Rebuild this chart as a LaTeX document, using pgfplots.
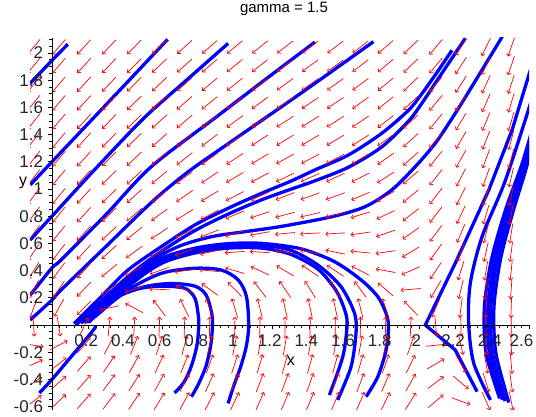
\documentclass[border=0pt]{standalone}
\usepackage{pgfplots}
\pgfplotsset{compat=1.18}
\usepackage{pgfplotstable}
\usetikzlibrary{arrows.meta}
\usepackage{fontspec}
\setmainfont{Liberation Sans}
\pgfplotstableread{
x y u v
-0.1 -0.56 0.56 0.586
-0.1 -0.423 0.423 0.381
-0.1 -0.286 0.286 0.175
-0.1 -0.149 0.149 -0.030
-0.1 -0.012 0.012 -0.236
-0.1 0.125 -0.125 -0.442
-0.1 0.262 -0.262 -0.647
-0.1 0.399 -0.399 -0.853
-0.1 0.536 -0.536 -1.058
-0.1 0.673 -0.673 -1.264
-0.1 0.81 -0.81 -1.469
-0.1 0.947 -0.947 -1.675
-0.1 1.084 -1.084 -1.880
-0.1 1.221 -1.221 -2.086
-0.1 1.358 -1.358 -2.291
-0.1 1.495 -1.495 -2.497
-0.1 1.632 -1.632 -2.702
-0.1 1.769 -1.769 -2.908
-0.1 1.906 -1.906 -3.113
-0.1 2.043 -2.043 -3.319
0.037 -0.56 0.56 0.721
0.037 -0.423 0.423 0.516
0.037 -0.286 0.286 0.310
0.037 -0.149 0.149 0.105
0.037 -0.012 0.012 -0.101
0.037 0.125 -0.125 -0.307
0.037 0.262 -0.262 -0.512
0.037 0.399 -0.399 -0.718
0.037 0.536 -0.536 -0.923
0.037 0.673 -0.673 -1.129
0.037 0.81 -0.81 -1.334
0.037 0.947 -0.947 -1.540
0.037 1.084 -1.084 -1.745
0.037 1.221 -1.221 -1.951
0.037 1.358 -1.358 -2.156
0.037 1.495 -1.495 -2.362
0.037 1.632 -1.632 -2.567
0.037 1.769 -1.769 -2.773
0.037 1.906 -1.906 -2.978
0.037 2.043 -2.043 -3.184
0.174 -0.56 0.56 0.856
0.174 -0.423 0.423 0.651
0.174 -0.286 0.286 0.445
0.174 -0.149 0.149 0.240
0.174 -0.012 0.012 0.034
0.174 0.125 -0.125 -0.172
0.174 0.262 -0.262 -0.377
0.174 0.399 -0.399 -0.583
0.174 0.536 -0.536 -0.788
0.174 0.673 -0.673 -0.994
0.174 0.81 -0.81 -1.199
0.174 0.947 -0.947 -1.405
0.174 1.084 -1.084 -1.610
0.174 1.221 -1.221 -1.816
0.174 1.358 -1.358 -2.021
0.174 1.495 -1.495 -2.227
0.174 1.632 -1.632 -2.432
0.174 1.769 -1.769 -2.638
0.174 1.906 -1.906 -2.843
0.174 2.043 -2.043 -3.049
0.311 -0.56 0.56 0.989
0.311 -0.423 0.423 0.784
0.311 -0.286 0.286 0.578
0.311 -0.149 0.149 0.373
0.311 -0.012 0.012 0.167
0.311 0.125 -0.125 -0.039
0.311 0.262 -0.262 -0.244
0.311 0.399 -0.399 -0.450
0.311 0.536 -0.536 -0.655
0.311 0.673 -0.673 -0.861
0.311 0.81 -0.81 -1.066
0.311 0.947 -0.947 -1.272
0.311 1.084 -1.084 -1.477
0.311 1.221 -1.221 -1.683
0.311 1.358 -1.358 -1.888
0.311 1.495 -1.495 -2.094
0.311 1.632 -1.632 -2.299
0.311 1.769 -1.769 -2.505
0.311 1.906 -1.906 -2.710
0.311 2.043 -2.043 -2.916
0.448 -0.56 0.56 1.120
0.448 -0.423 0.423 0.915
0.448 -0.286 0.286 0.709
0.448 -0.149 0.149 0.504
0.448 -0.012 0.012 0.298
0.448 0.125 -0.125 0.092
0.448 0.262 -0.262 -0.113
0.448 0.399 -0.399 -0.319
0.448 0.536 -0.536 -0.524
0.448 0.673 -0.673 -0.730
0.448 0.81 -0.81 -0.935
0.448 0.947 -0.947 -1.141
0.448 1.084 -1.084 -1.346
0.448 1.221 -1.221 -1.552
0.448 1.358 -1.358 -1.757
0.448 1.495 -1.495 -1.963
0.448 1.632 -1.632 -2.168
0.448 1.769 -1.769 -2.374
0.448 1.906 -1.906 -2.579
0.448 2.043 -2.043 -2.785
0.585 -0.56 0.56 1.248
0.585 -0.423 0.423 1.043
0.585 -0.286 0.286 0.837
0.585 -0.149 0.149 0.632
0.585 -0.012 0.012 0.426
0.585 0.125 -0.125 0.220
0.585 0.262 -0.262 0.015
0.585 0.399 -0.399 -0.191
0.585 0.536 -0.536 -0.396
0.585 0.673 -0.673 -0.602
0.585 0.81 -0.81 -0.807
0.585 0.947 -0.947 -1.013
0.585 1.084 -1.084 -1.218
0.585 1.221 -1.221 -1.424
0.585 1.358 -1.358 -1.629
0.585 1.495 -1.495 -1.835
0.585 1.632 -1.632 -2.040
0.585 1.769 -1.769 -2.246
0.585 1.906 -1.906 -2.451
0.585 2.043 -2.043 -2.657
0.722 -0.56 0.56 1.372
0.722 -0.423 0.423 1.167
0.722 -0.286 0.286 0.961
0.722 -0.149 0.149 0.756
0.722 -0.012 0.012 0.550
0.722 0.125 -0.125 0.344
0.722 0.262 -0.262 0.139
0.722 0.399 -0.399 -0.067
0.722 0.536 -0.536 -0.272
0.722 0.673 -0.673 -0.478
0.722 0.81 -0.81 -0.683
0.722 0.947 -0.947 -0.889
0.722 1.084 -1.084 -1.094
0.722 1.221 -1.221 -1.300
0.722 1.358 -1.358 -1.505
0.722 1.495 -1.495 -1.711
0.722 1.632 -1.632 -1.916
0.722 1.769 -1.769 -2.122
0.722 1.906 -1.906 -2.327
0.722 2.043 -2.043 -2.533
0.859 -0.56 0.56 1.489
0.859 -0.423 0.423 1.284
0.859 -0.286 0.286 1.078
0.859 -0.149 0.149 0.873
0.859 -0.012 0.012 0.667
0.859 0.125 -0.125 0.461
0.859 0.262 -0.262 0.256
0.859 0.399 -0.399 0.050
0.859 0.536 -0.536 -0.155
0.859 0.673 -0.673 -0.361
0.859 0.81 -0.81 -0.566
0.859 0.947 -0.947 -0.772
0.859 1.084 -1.084 -0.977
0.859 1.221 -1.221 -1.183
0.859 1.358 -1.358 -1.388
0.859 1.495 -1.495 -1.594
0.859 1.632 -1.632 -1.799
0.859 1.769 -1.769 -2.005
0.859 1.906 -1.906 -2.210
0.859 2.043 -2.043 -2.416
0.996 -0.56 0.56 1.597
0.996 -0.423 0.423 1.392
0.996 -0.286 0.286 1.186
0.996 -0.149 0.149 0.981
0.996 -0.012 0.012 0.775
0.996 0.125 -0.125 0.569
0.996 0.262 -0.262 0.364
0.996 0.399 -0.399 0.158
0.996 0.536 -0.536 -0.047
0.996 0.673 -0.673 -0.253
0.996 0.81 -0.81 -0.458
0.996 0.947 -0.947 -0.664
0.996 1.084 -1.084 -0.869
0.996 1.221 -1.221 -1.075
0.996 1.358 -1.358 -1.280
0.996 1.495 -1.495 -1.486
0.996 1.632 -1.632 -1.691
0.996 1.769 -1.769 -1.897
0.996 1.906 -1.906 -2.102
0.996 2.043 -2.043 -2.308
1.133 -0.56 0.56 1.690
1.133 -0.423 0.423 1.485
1.133 -0.286 0.286 1.279
1.133 -0.149 0.149 1.074
1.133 -0.012 0.012 0.868
1.133 0.125 -0.125 0.662
1.133 0.262 -0.262 0.457
1.133 0.399 -0.399 0.251
1.133 0.536 -0.536 0.046
1.133 0.673 -0.673 -0.160
1.133 0.81 -0.81 -0.365
1.133 0.947 -0.947 -0.571
1.133 1.084 -1.084 -0.776
1.133 1.221 -1.221 -0.982
1.133 1.358 -1.358 -1.187
1.133 1.495 -1.495 -1.393
1.133 1.632 -1.632 -1.598
1.133 1.769 -1.769 -1.804
1.133 1.906 -1.906 -2.009
1.133 2.043 -2.043 -2.215
1.27 -0.56 0.56 1.762
1.27 -0.423 0.423 1.557
1.27 -0.286 0.286 1.351
1.27 -0.149 0.149 1.146
1.27 -0.012 0.012 0.940
1.27 0.125 -0.125 0.734
1.27 0.262 -0.262 0.529
1.27 0.399 -0.399 0.323
1.27 0.536 -0.536 0.118
1.27 0.673 -0.673 -0.088
1.27 0.81 -0.81 -0.293
1.27 0.947 -0.947 -0.499
1.27 1.084 -1.084 -0.704
1.27 1.221 -1.221 -0.910
1.27 1.358 -1.358 -1.115
1.27 1.495 -1.495 -1.321
1.27 1.632 -1.632 -1.526
1.27 1.769 -1.769 -1.732
1.27 1.906 -1.906 -1.937
1.27 2.043 -2.043 -2.143
1.407 -0.56 0.56 1.803
1.407 -0.423 0.423 1.598
1.407 -0.286 0.286 1.392
1.407 -0.149 0.149 1.187
1.407 -0.012 0.012 0.981
1.407 0.125 -0.125 0.775
1.407 0.262 -0.262 0.570
1.407 0.399 -0.399 0.364
1.407 0.536 -0.536 0.159
1.407 0.673 -0.673 -0.047
1.407 0.81 -0.81 -0.252
1.407 0.947 -0.947 -0.458
1.407 1.084 -1.084 -0.663
1.407 1.221 -1.221 -0.869
1.407 1.358 -1.358 -1.074
1.407 1.495 -1.495 -1.280
1.407 1.632 -1.632 -1.485
1.407 1.769 -1.769 -1.691
1.407 1.906 -1.906 -1.896
1.407 2.043 -2.043 -2.102
1.544 -0.56 0.56 1.796
1.544 -0.423 0.423 1.591
1.544 -0.286 0.286 1.385
1.544 -0.149 0.149 1.180
1.544 -0.012 0.012 0.974
1.544 0.125 -0.125 0.768
1.544 0.262 -0.262 0.563
1.544 0.399 -0.399 0.357
1.544 0.536 -0.536 0.152
1.544 0.673 -0.673 -0.054
1.544 0.81 -0.81 -0.259
1.544 0.947 -0.947 -0.465
1.544 1.084 -1.084 -0.670
1.544 1.221 -1.221 -0.876
1.544 1.358 -1.358 -1.081
1.544 1.495 -1.495 -1.287
1.544 1.632 -1.632 -1.492
1.544 1.769 -1.769 -1.698
1.544 1.906 -1.906 -1.903
1.544 2.043 -2.043 -2.109
1.681 -0.56 0.56 1.719
1.681 -0.423 0.423 1.514
1.681 -0.286 0.286 1.308
1.681 -0.149 0.149 1.103
1.681 -0.012 0.012 0.897
1.681 0.125 -0.125 0.691
1.681 0.262 -0.262 0.486
1.681 0.399 -0.399 0.280
1.681 0.536 -0.536 0.075
1.681 0.673 -0.673 -0.131
1.681 0.81 -0.81 -0.336
1.681 0.947 -0.947 -0.542
1.681 1.084 -1.084 -0.747
1.681 1.221 -1.221 -0.953
1.681 1.358 -1.358 -1.158
1.681 1.495 -1.495 -1.364
1.681 1.632 -1.632 -1.569
1.681 1.769 -1.769 -1.775
1.681 1.906 -1.906 -1.980
1.681 2.043 -2.043 -2.186
1.818 -0.56 0.56 1.539
1.818 -0.423 0.423 1.334
1.818 -0.286 0.286 1.128
1.818 -0.149 0.149 0.923
1.818 -0.012 0.012 0.717
1.818 0.125 -0.125 0.511
1.818 0.262 -0.262 0.306
1.818 0.399 -0.399 0.100
1.818 0.536 -0.536 -0.105
1.818 0.673 -0.673 -0.311
1.818 0.81 -0.81 -0.516
1.818 0.947 -0.947 -0.722
1.818 1.084 -1.084 -0.927
1.818 1.221 -1.221 -1.133
1.818 1.358 -1.358 -1.338
1.818 1.495 -1.495 -1.544
1.818 1.632 -1.632 -1.749
1.818 1.769 -1.769 -1.955
1.818 1.906 -1.906 -2.160
1.818 2.043 -2.043 -2.366
1.955 -0.56 0.56 1.203
1.955 -0.423 0.423 0.998
1.955 -0.286 0.286 0.792
1.955 -0.149 0.149 0.587
1.955 -0.012 0.012 0.381
1.955 0.125 -0.125 0.175
1.955 0.262 -0.262 -0.030
1.955 0.399 -0.399 -0.236
1.955 0.536 -0.536 -0.441
1.955 0.673 -0.673 -0.647
1.955 0.81 -0.81 -0.852
1.955 0.947 -0.947 -1.058
1.955 1.084 -1.084 -1.263
1.955 1.221 -1.221 -1.469
1.955 1.358 -1.358 -1.674
1.955 1.495 -1.495 -1.880
1.955 1.632 -1.632 -2.085
1.955 1.769 -1.769 -2.291
1.955 1.906 -1.906 -2.496
1.955 2.043 -2.043 -2.702
2.092 -0.56 0.56 0.636
2.092 -0.423 0.423 0.431
2.092 -0.286 0.286 0.225
2.092 -0.149 0.149 0.020
2.092 -0.012 0.012 -0.186
2.092 0.125 -0.125 -0.392
2.092 0.262 -0.262 -0.597
2.092 0.399 -0.399 -0.803
2.092 0.536 -0.536 -1.008
2.092 0.673 -0.673 -1.214
2.092 0.81 -0.81 -1.419
2.092 0.947 -0.947 -1.625
2.092 1.084 -1.084 -1.830
2.092 1.221 -1.221 -2.036
2.092 1.358 -1.358 -2.241
2.092 1.495 -1.495 -2.447
2.092 1.632 -1.632 -2.652
2.092 1.769 -1.769 -2.858
2.092 1.906 -1.906 -3.063
2.092 2.043 -2.043 -3.269
2.229 -0.56 0.56 -0.274
2.229 -0.423 0.423 -0.479
2.229 -0.286 0.286 -0.685
2.229 -0.149 0.149 -0.890
2.229 -0.012 0.012 -1.096
2.229 0.125 -0.125 -1.302
2.229 0.262 -0.262 -1.507
2.229 0.399 -0.399 -1.713
2.229 0.536 -0.536 -1.918
2.229 0.673 -0.673 -2.124
2.229 0.81 -0.81 -2.329
2.229 0.947 -0.947 -2.535
2.229 1.084 -1.084 -2.740
2.229 1.221 -1.221 -2.946
2.229 1.358 -1.358 -3.151
2.229 1.495 -1.495 -3.357
2.229 1.632 -1.632 -3.562
2.229 1.769 -1.769 -3.768
2.229 1.906 -1.906 -3.973
2.229 2.043 -2.043 -4.179
2.366 -0.56 0.56 -1.695
2.366 -0.423 0.423 -1.900
2.366 -0.286 0.286 -2.106
2.366 -0.149 0.149 -2.311
2.366 -0.012 0.012 -2.517
2.366 0.125 -0.125 -2.723
2.366 0.262 -0.262 -2.928
2.366 0.399 -0.399 -3.134
2.366 0.536 -0.536 -3.339
2.366 0.673 -0.673 -3.545
2.366 0.81 -0.81 -3.750
2.366 0.947 -0.947 -3.956
2.366 1.084 -1.084 -4.161
2.366 1.221 -1.221 -4.367
2.366 1.358 -1.358 -4.572
2.366 1.495 -1.495 -4.778
2.366 1.632 -1.632 -4.983
2.366 1.769 -1.769 -5.189
2.366 1.906 -1.906 -5.394
2.366 2.043 -2.043 -5.600
2.503 -0.56 0.56 -3.875
2.503 -0.423 0.423 -4.080
2.503 -0.286 0.286 -4.286
2.503 -0.149 0.149 -4.491
2.503 -0.012 0.012 -4.697
2.503 0.125 -0.125 -4.903
2.503 0.262 -0.262 -5.108
2.503 0.399 -0.399 -5.314
2.503 0.536 -0.536 -5.519
2.503 0.673 -0.673 -5.725
2.503 0.81 -0.81 -5.930
2.503 0.947 -0.947 -6.136
2.503 1.084 -1.084 -6.341
2.503 1.221 -1.221 -6.547
2.503 1.358 -1.358 -6.752
2.503 1.495 -1.495 -6.958
2.503 1.632 -1.632 -7.163
2.503 1.769 -1.769 -7.369
2.503 1.906 -1.906 -7.574
2.503 2.043 -2.043 -7.780
}\field
\newcommand\NN{sqrt((1.8346*\thisrow{u})^2+(1.36*\thisrow{v})^2)}
\begin{document}
\begin{tikzpicture}
\useasboundingbox (-30bp,-7bp) rectangle (506bp,410bp);
\begin{axis}[
  scale only axis, width=499bp, height=372bp,
  xmin=-0.12, xmax=2.6, ymin=-0.625, ymax=2.11,
  axis lines=middle, axis line style={-, line width=0.8bp},
  axis on top,
  xtick={0.2,0.4,0.6,0.8,1,1.2,1.4,1.6,1.8,2,2.2,2.4},
  extra x ticks={2.6},
  extra x tick style={xticklabel style={xshift=-5bp}},
  ytick={-0.6,-0.4,-0.2,0.2,0.4,0.6,0.8,1,1.2,1.4,1.6,1.8,2},
  minor xtick={-0.12,-0.08,...,2.6},
  minor ytick={-0.6,-0.55,...,2.1},
  tick align=outside,
  major tick length=4.5bp, minor tick length=3.5bp,
  every tick/.style={black, line width=0.7bp},
  /pgf/number format/assume math mode=true,
  tick label style={font=\fontsize{17bp}{18bp}\selectfont, text=black!85},
  xticklabel style={yshift=-2bp, xshift=-2.5bp},
  yticklabel style={xshift=-1bp},
  title={gamma = 1.5},
  title style={at={(0.509,1)}, anchor=center, yshift=23bp, font=\fontsize{15bp}{16bp}\selectfont},
  xlabel={x}, ylabel={y},
  xlabel style={at={(0.523,0.13)}, anchor=center, font=\fontsize{16bp}{17bp}\selectfont},
  ylabel style={at={(-0.014,0.61)}, anchor=center, rotate=0, font=\fontsize{16bp}{17bp}\selectfont},
  clip=true,
]
% trajectories
\pgfplotsset{traj/.style={blue, line width=3.3bp, smooth, tension=0.5}}
\addplot[traj] coordinates {(-0.119,1.777) (0,1.945) (0.086,2.064)};
\addplot[traj] coordinates {(-0.119,1.03) (0,1.2) (0.2,1.485) (0.4,1.77) (0.63,2.1)};
\addplot[traj] coordinates {(-0.119,0.625) (0,0.8) (0.231,1.14) (0.5,1.52) (0.75,1.82) (0.96,2.07)};
\addplot[traj] coordinates {(-0.119,0.22) (0,0.42) (0.049,0.478) (0.3,0.82) (0.541,1.164) (0.9,1.534) (1.2,1.843) (1.433,2.08)};
\addplot[traj] coordinates {(-0.119,0.037) (0,0.184) (0.049,0.257) (0.3,0.585) (0.541,0.9) (0.741,1.125) (1.0,1.37) (1.4,1.745) (1.752,2.083)};
\addplot[traj] coordinates {(-0.069,-0.50) (0,-0.40) (0.1,-0.24) (0.2,-0.08) (0.24,-0.01)};
% upper pair from the node
\addplot[traj] coordinates {(0.12,0.01) (0.268,0.208) (0.414,0.404) (0.596,0.576) (0.778,0.735) (0.96,0.858) (1.142,0.968) (1.306,1.06) (1.433,1.14) (1.616,1.25) (1.798,1.41) (1.944,1.58) (2.016,1.70) (2.1,1.86) (2.18,2.02)};
\addplot[traj] coordinates {(0.13,0.0) (0.28,0.19) (0.43,0.375) (0.6,0.545) (0.78,0.695) (0.96,0.815) (1.142,0.92) (1.306,1.0) (1.433,1.06) (1.616,1.16) (1.798,1.31) (1.944,1.5) (2.016,1.63) (2.1,1.80) (2.253,2.108)};
\addplot[traj] coordinates {(0.158,0.012) (0.322,0.233) (0.504,0.441) (0.687,0.576) (0.869,0.649) (1.051,0.686) (1.251,0.725) (1.525,0.796) (1.707,0.87) (1.852,0.993) (1.98,1.164) (2.089,1.336) (2.198,1.556) (2.344,1.875) (2.454,2.12)};
% band turning down
\addplot[traj] coordinates {(0.17,0.02) (0.231,0.086) (0.414,0.331) (0.596,0.49) (0.778,0.564) (0.96,0.598) (1.142,0.6) (1.357,0.56) (1.539,0.466) (1.685,0.331) (1.776,0.208) (1.821,0.086) (1.834,-0.01) (1.821,-0.184) (1.776,-0.38) (1.712,-0.527)};
\addplot[traj] coordinates {(0.18,0.02) (0.25,0.09) (0.43,0.32) (0.6,0.47) (0.78,0.545) (0.96,0.58) (1.142,0.585) (1.3,0.55) (1.45,0.44) (1.575,0.282) (1.649,0.086) (1.657,-0.061) (1.63,-0.307) (1.557,-0.551)};
\addplot[traj] coordinates {(0.19,0.02) (0.26,0.09) (0.44,0.31) (0.6,0.455) (0.78,0.53) (0.96,0.565) (1.142,0.565) (1.3,0.52) (1.45,0.41) (1.55,0.25) (1.6,0.09) (1.608,-0.012) (1.585,-0.233) (1.512,-0.515)};
\addplot[traj] coordinates {(0.2,0.02) (0.231,0.061) (0.414,0.257) (0.596,0.38) (0.778,0.417) (0.923,0.404) (1.015,0.331) (1.06,0.208) (1.072,0.0) (1.06,-0.15) (1.03,-0.3) (0.99,-0.45) (0.96,-0.576)};
\addplot[traj] coordinates {(0.2,0.02) (0.35,0.2) (0.5,0.28) (0.65,0.305) (0.78,0.285) (0.84,0.22) (0.87,0.09) (0.875,0.0) (0.865,-0.15) (0.84,-0.3) (0.8,-0.43) (0.76,-0.527)};
\addplot[traj] coordinates {(0.2,0.03) (0.322,0.184) (0.468,0.265) (0.596,0.285) (0.723,0.27) (0.778,0.2) (0.796,0.086) (0.8,0.0) (0.79,-0.15) (0.76,-0.3) (0.72,-0.42) (0.668,-0.5)};
% right group
\addplot[blue, line width=3.3bp] coordinates {(2.317,-0.49) (2.198,-0.184) (2.035,0.0) (2.198,0.454) (2.381,0.993) (2.508,1.434) (2.627,1.961)};
\addplot[traj] coordinates {(2.617,1.667) (2.472,1.066) (2.344,0.649) (2.28,0.306) (2.271,0.012) (2.299,-0.282) (2.39,-0.551)};
\addplot[traj] coordinates {(2.627,1.483) (2.563,1.189) (2.472,0.846) (2.399,0.502) (2.362,0.208) (2.355,0.0) (2.37,-0.233) (2.44,-0.54)};
\addplot[traj] coordinates {(2.627,1.44) (2.568,1.17) (2.485,0.84) (2.415,0.5) (2.38,0.2) (2.373,0.0) (2.388,-0.233) (2.455,-0.55)};
\addplot[traj] coordinates {(2.627,1.40) (2.575,1.15) (2.497,0.83) (2.43,0.5) (2.396,0.2) (2.39,0.0) (2.405,-0.233) (2.47,-0.56)};
\addplot[traj] coordinates {(2.627,1.36) (2.58,1.13) (2.51,0.82) (2.447,0.5) (2.413,0.2) (2.408,0.0) (2.423,-0.233) (2.49,-0.57)};
% direction field
\addplot[red, line width=0.7bp, -{Straight Barb[length=2.5bp,width=4.5bp]},
  quiver={u={0.2*\thisrow{u}/\NN}, v={0.2*\thisrow{v}/\NN}}]
  table[x expr={\thisrow{x}-0.1*\thisrow{u}/\NN}, y expr={\thisrow{y}-0.1*\thisrow{v}/\NN}] {\field};
\end{axis}
\end{tikzpicture}
\end{document}
